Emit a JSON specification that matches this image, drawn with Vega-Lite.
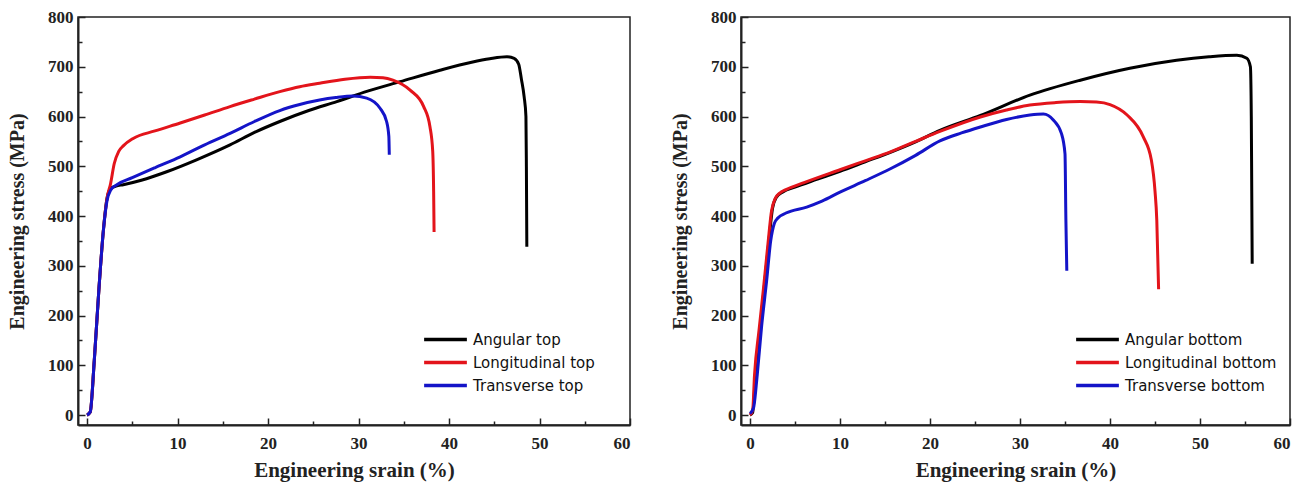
{
  "$schema": "https://vega.github.io/schema/vega-lite/v6.json",
  "background": "white",
  "padding": {"left": 6, "top": 7, "right": 5, "bottom": 5},
  "config": {
    "view": {"stroke": "#222", "strokeWidth": 1.5},
    "axis": {
      "grid": false,
      "domainWidth": 2,
      "domainColor": "#222",
      "tickColor": "#222",
      "tickWidth": 1.5,
      "labelFont": "Liberation Serif",
      "labelFontWeight": "bold",
      "labelFontSize": 17,
      "labelColor": "#222",
      "titleFont": "Liberation Serif",
      "titleFontWeight": "bold",
      "titleColor": "#222"
    },
    "legend": {
      "symbolType": "M-2.25,0H2.25",
      "symbolSize": 361,
      "symbolStrokeWidth": 3.5,
      "labelFont": "DejaVu Sans",
      "labelFontSize": 15,
      "labelColor": "#111",
      "rowPadding": 3,
      "padding": 0,
      "labelOffset": 16
    }
  },
  "datasets": {
    "top": [
      {"series": "Angular top", "strain": 0, "stress": 0},
      {"series": "Angular top", "strain": 0.35, "stress": 6},
      {"series": "Angular top", "strain": 0.8, "stress": 110},
      {"series": "Angular top", "strain": 1.3, "stress": 250},
      {"series": "Angular top", "strain": 1.8, "stress": 370},
      {"series": "Angular top", "strain": 2.2, "stress": 435},
      {"series": "Angular top", "strain": 2.6, "stress": 455},
      {"series": "Angular top", "strain": 3.2, "stress": 460},
      {"series": "Angular top", "strain": 4.0, "stress": 463},
      {"series": "Angular top", "strain": 6.0, "stress": 472},
      {"series": "Angular top", "strain": 8.8, "stress": 489},
      {"series": "Angular top", "strain": 12.1, "stress": 513},
      {"series": "Angular top", "strain": 15.8, "stress": 543},
      {"series": "Angular top", "strain": 18.5, "stress": 568},
      {"series": "Angular top", "strain": 21.3, "stress": 590},
      {"series": "Angular top", "strain": 24.5, "stress": 612},
      {"series": "Angular top", "strain": 27.6, "stress": 630},
      {"series": "Angular top", "strain": 31.0, "stress": 651},
      {"series": "Angular top", "strain": 34.6, "stress": 670},
      {"series": "Angular top", "strain": 39.0, "stress": 693},
      {"series": "Angular top", "strain": 42.5, "stress": 709},
      {"series": "Angular top", "strain": 44.5, "stress": 716},
      {"series": "Angular top", "strain": 46.4, "stress": 720},
      {"series": "Angular top", "strain": 47.2, "stress": 717},
      {"series": "Angular top", "strain": 47.7, "stress": 705},
      {"series": "Angular top", "strain": 48.0, "stress": 675},
      {"series": "Angular top", "strain": 48.3, "stress": 640},
      {"series": "Angular top", "strain": 48.5, "stress": 600},
      {"series": "Angular top", "strain": 48.55, "stress": 500},
      {"series": "Angular top", "strain": 48.6, "stress": 338},
      {"series": "Longitudinal top", "strain": 0, "stress": 0},
      {"series": "Longitudinal top", "strain": 0.35, "stress": 6},
      {"series": "Longitudinal top", "strain": 0.8, "stress": 110},
      {"series": "Longitudinal top", "strain": 1.3, "stress": 250},
      {"series": "Longitudinal top", "strain": 1.8, "stress": 370},
      {"series": "Longitudinal top", "strain": 2.2, "stress": 435},
      {"series": "Longitudinal top", "strain": 2.6, "stress": 465},
      {"series": "Longitudinal top", "strain": 3.0, "stress": 505},
      {"series": "Longitudinal top", "strain": 3.5, "stress": 530},
      {"series": "Longitudinal top", "strain": 4.0, "stress": 541},
      {"series": "Longitudinal top", "strain": 5.1, "stress": 556},
      {"series": "Longitudinal top", "strain": 7.5, "stress": 571},
      {"series": "Longitudinal top", "strain": 10.3, "stress": 587},
      {"series": "Longitudinal top", "strain": 13.0, "stress": 603},
      {"series": "Longitudinal top", "strain": 15.8, "stress": 620},
      {"series": "Longitudinal top", "strain": 18.5, "stress": 635},
      {"series": "Longitudinal top", "strain": 21.3, "stress": 650},
      {"series": "Longitudinal top", "strain": 23.5, "stress": 660},
      {"series": "Longitudinal top", "strain": 25.7, "stress": 667},
      {"series": "Longitudinal top", "strain": 28.5, "stress": 675},
      {"series": "Longitudinal top", "strain": 31.3, "stress": 679},
      {"series": "Longitudinal top", "strain": 32.7, "stress": 678},
      {"series": "Longitudinal top", "strain": 33.8, "stress": 673},
      {"series": "Longitudinal top", "strain": 35.7, "stress": 653},
      {"series": "Longitudinal top", "strain": 37.2, "stress": 620},
      {"series": "Longitudinal top", "strain": 37.9, "stress": 579},
      {"series": "Longitudinal top", "strain": 38.2, "stress": 530},
      {"series": "Longitudinal top", "strain": 38.3, "stress": 450},
      {"series": "Longitudinal top", "strain": 38.35, "stress": 368},
      {"series": "Transverse top", "strain": 0, "stress": 0},
      {"series": "Transverse top", "strain": 0.35, "stress": 6},
      {"series": "Transverse top", "strain": 0.8, "stress": 110},
      {"series": "Transverse top", "strain": 1.3, "stress": 250},
      {"series": "Transverse top", "strain": 1.8, "stress": 370},
      {"series": "Transverse top", "strain": 2.2, "stress": 430},
      {"series": "Transverse top", "strain": 2.6, "stress": 452},
      {"series": "Transverse top", "strain": 3.3, "stress": 463},
      {"series": "Transverse top", "strain": 5.0, "stress": 477},
      {"series": "Transverse top", "strain": 7.5, "stress": 497},
      {"series": "Transverse top", "strain": 10.3, "stress": 519},
      {"series": "Transverse top", "strain": 13.0, "stress": 543},
      {"series": "Transverse top", "strain": 15.8, "stress": 566},
      {"series": "Transverse top", "strain": 18.5, "stress": 590},
      {"series": "Transverse top", "strain": 21.3, "stress": 612},
      {"series": "Transverse top", "strain": 23.5, "stress": 624},
      {"series": "Transverse top", "strain": 25.7, "stress": 633},
      {"series": "Transverse top", "strain": 27.5, "stress": 638},
      {"series": "Transverse top", "strain": 29.4, "stress": 641},
      {"series": "Transverse top", "strain": 30.9, "stress": 637},
      {"series": "Transverse top", "strain": 32.4, "stress": 616},
      {"series": "Transverse top", "strain": 33.1, "stress": 590},
      {"series": "Transverse top", "strain": 33.35, "stress": 560},
      {"series": "Transverse top", "strain": 33.4, "stress": 523}
    ],
    "bottom": [
      {"series": "Angular bottom", "strain": 0, "stress": 0},
      {"series": "Angular bottom", "strain": 0.3, "stress": 5},
      {"series": "Angular bottom", "strain": 0.6, "stress": 80},
      {"series": "Angular bottom", "strain": 1.1, "stress": 170},
      {"series": "Angular bottom", "strain": 1.6, "stress": 260},
      {"series": "Angular bottom", "strain": 2.1, "stress": 350},
      {"series": "Angular bottom", "strain": 2.5, "stress": 415},
      {"series": "Angular bottom", "strain": 2.9, "stress": 437},
      {"series": "Angular bottom", "strain": 3.7, "stress": 449},
      {"series": "Angular bottom", "strain": 5.0, "stress": 458},
      {"series": "Angular bottom", "strain": 7.5, "stress": 474},
      {"series": "Angular bottom", "strain": 10.0, "stress": 490},
      {"series": "Angular bottom", "strain": 12.8, "stress": 509},
      {"series": "Angular bottom", "strain": 15.6, "stress": 528},
      {"series": "Angular bottom", "strain": 18.4, "stress": 549},
      {"series": "Angular bottom", "strain": 21.1, "stress": 572},
      {"series": "Angular bottom", "strain": 25.6, "stress": 602},
      {"series": "Angular bottom", "strain": 31.1, "stress": 643},
      {"series": "Angular bottom", "strain": 36.7, "stress": 673},
      {"series": "Angular bottom", "strain": 42.2, "stress": 697},
      {"series": "Angular bottom", "strain": 47.4, "stress": 713},
      {"series": "Angular bottom", "strain": 51.0, "stress": 720},
      {"series": "Angular bottom", "strain": 54.1, "stress": 723},
      {"series": "Angular bottom", "strain": 55.2, "stress": 717},
      {"series": "Angular bottom", "strain": 55.6, "stress": 700},
      {"series": "Angular bottom", "strain": 55.7, "stress": 600},
      {"series": "Angular bottom", "strain": 55.75, "stress": 450},
      {"series": "Angular bottom", "strain": 55.8, "stress": 304},
      {"series": "Longitudinal bottom", "strain": 0, "stress": 0},
      {"series": "Longitudinal bottom", "strain": 0.3, "stress": 10},
      {"series": "Longitudinal bottom", "strain": 0.5, "stress": 80},
      {"series": "Longitudinal bottom", "strain": 1.0, "stress": 170},
      {"series": "Longitudinal bottom", "strain": 1.5, "stress": 255},
      {"series": "Longitudinal bottom", "strain": 2.0, "stress": 345},
      {"series": "Longitudinal bottom", "strain": 2.4, "stress": 411},
      {"series": "Longitudinal bottom", "strain": 2.8, "stress": 435},
      {"series": "Longitudinal bottom", "strain": 3.3, "stress": 446},
      {"series": "Longitudinal bottom", "strain": 4.0, "stress": 453},
      {"series": "Longitudinal bottom", "strain": 6.0, "stress": 467},
      {"series": "Longitudinal bottom", "strain": 10.0, "stress": 493},
      {"series": "Longitudinal bottom", "strain": 12.8, "stress": 511},
      {"series": "Longitudinal bottom", "strain": 15.6, "stress": 529},
      {"series": "Longitudinal bottom", "strain": 18.4, "stress": 550},
      {"series": "Longitudinal bottom", "strain": 21.1, "stress": 570},
      {"series": "Longitudinal bottom", "strain": 25.6, "stress": 599},
      {"series": "Longitudinal bottom", "strain": 28.5, "stress": 613},
      {"series": "Longitudinal bottom", "strain": 31.1, "stress": 623},
      {"series": "Longitudinal bottom", "strain": 34.0, "stress": 628},
      {"series": "Longitudinal bottom", "strain": 36.7, "stress": 630},
      {"series": "Longitudinal bottom", "strain": 38.5, "stress": 629},
      {"series": "Longitudinal bottom", "strain": 40.0, "stress": 624},
      {"series": "Longitudinal bottom", "strain": 41.9, "stress": 603},
      {"series": "Longitudinal bottom", "strain": 43.7, "stress": 559},
      {"series": "Longitudinal bottom", "strain": 44.6, "stress": 512},
      {"series": "Longitudinal bottom", "strain": 45.0, "stress": 450},
      {"series": "Longitudinal bottom", "strain": 45.2, "stress": 391},
      {"series": "Longitudinal bottom", "strain": 45.4, "stress": 253},
      {"series": "Transverse bottom", "strain": 0, "stress": 3},
      {"series": "Transverse bottom", "strain": 0.4, "stress": 15},
      {"series": "Transverse bottom", "strain": 0.8, "stress": 80},
      {"series": "Transverse bottom", "strain": 1.3, "stress": 180},
      {"series": "Transverse bottom", "strain": 1.85, "stress": 270},
      {"series": "Transverse bottom", "strain": 2.3, "stress": 350},
      {"series": "Transverse bottom", "strain": 2.7, "stress": 385},
      {"series": "Transverse bottom", "strain": 3.1, "stress": 396},
      {"series": "Transverse bottom", "strain": 4.0, "stress": 406},
      {"series": "Transverse bottom", "strain": 6.3, "stress": 418},
      {"series": "Transverse bottom", "strain": 8.0, "stress": 430},
      {"series": "Transverse bottom", "strain": 10.0, "stress": 448},
      {"series": "Transverse bottom", "strain": 12.8, "stress": 471},
      {"series": "Transverse bottom", "strain": 15.6, "stress": 495},
      {"series": "Transverse bottom", "strain": 18.4, "stress": 522},
      {"series": "Transverse bottom", "strain": 21.1, "stress": 551},
      {"series": "Transverse bottom", "strain": 23.5, "stress": 567},
      {"series": "Transverse bottom", "strain": 25.6, "stress": 579},
      {"series": "Transverse bottom", "strain": 28.5, "stress": 594},
      {"series": "Transverse bottom", "strain": 31.1, "stress": 603},
      {"series": "Transverse bottom", "strain": 32.6, "stress": 605},
      {"series": "Transverse bottom", "strain": 33.7, "stress": 593},
      {"series": "Transverse bottom", "strain": 34.6, "stress": 566},
      {"series": "Transverse bottom", "strain": 35.0, "stress": 525},
      {"series": "Transverse bottom", "strain": 35.1, "stress": 391},
      {"series": "Transverse bottom", "strain": 35.2, "stress": 290}
    ]
  },
  "resolve": {"scale": {"color": "independent"}, "legend": {"color": "independent"}},
  "spacing": 37,
  "hconcat": [
    {
      "width": 552,
      "height": 408,
      "data": {"name": "top"},
      "mark": {"type": "line", "strokeWidth": 3, "interpolate": "monotone"},
      "encoding": {
        "x": {
          "field": "strain", "type": "quantitative",
          "scale": {"domain": [-1, 60], "nice": false, "zero": false},
          "axis": {
            "title": "Engineering srain (%)",
            "titleFont": "Liberation Serif", "titleFontWeight": "bold",
            "titleFontSize": 21,
            "titlePadding": 8,
            "values": [0, 5, 10, 15, 20, 25, 30, 35, 40, 45, 50, 55, 60],
            "labelExpr": "datum.value % 10 === 0 ? datum.label : ''",
            "labelFont": "Liberation Serif", "labelFontWeight": "bold", "labelFontSize": 17,
            "tickSize": {"condition": {"test": "datum.value % 10 !== 0", "value": -4}, "value": -7},
            "labelPadding": 17
          }
        },
        "y": {
          "field": "stress", "type": "quantitative",
          "scale": {"domain": [-20, 800], "nice": false, "zero": false},
          "axis": {
            "title": "Engineering stress (MPa)",
            "titleFont": "Liberation Serif", "titleFontWeight": "bold",
            "titleFontSize": 20,
            "titlePadding": 20,
            "values": [0, 50, 100, 150, 200, 250, 300, 350, 400, 450, 500, 550, 600, 650, 700, 750, 800],
            "labelExpr": "datum.value % 100 === 0 ? datum.label : ''",
            "labelFont": "Liberation Serif", "labelFontWeight": "bold", "labelFontSize": 17,
            "tickSize": {"condition": {"test": "datum.value % 100 !== 0", "value": -4}, "value": -7},
            "labelPadding": 12
          }
        },
        "color": {
          "field": "series", "type": "nominal",
          "scale": {"domain": ["Angular top", "Longitudinal top", "Transverse top"], "range": ["#000000", "#e3141b", "#1414c8"]},
          "legend": {"title": null, "orient": "none", "legendX": 356, "legendY": 311}
        }
      }
    },
    {
      "width": 549,
      "height": 408,
      "data": {"name": "bottom"},
      "mark": {"type": "line", "strokeWidth": 3, "interpolate": "monotone"},
      "encoding": {
        "x": {
          "field": "strain", "type": "quantitative",
          "scale": {"domain": [-1, 60], "nice": false, "zero": false},
          "axis": {
            "title": "Engineering srain (%)",
            "titleFont": "Liberation Serif", "titleFontWeight": "bold",
            "titleFontSize": 21,
            "titlePadding": 8,
            "values": [0, 5, 10, 15, 20, 25, 30, 35, 40, 45, 50, 55, 60],
            "labelExpr": "datum.value % 10 === 0 ? datum.label : ''",
            "labelFont": "Liberation Serif", "labelFontWeight": "bold", "labelFontSize": 17,
            "tickSize": {"condition": {"test": "datum.value % 10 !== 0", "value": -4}, "value": -7},
            "labelPadding": 17
          }
        },
        "y": {
          "field": "stress", "type": "quantitative",
          "scale": {"domain": [-20, 800], "nice": false, "zero": false},
          "axis": {
            "title": "Engineering stress (MPa)",
            "titleFont": "Liberation Serif", "titleFontWeight": "bold",
            "titleFontSize": 20,
            "titlePadding": 20,
            "values": [0, 50, 100, 150, 200, 250, 300, 350, 400, 450, 500, 550, 600, 650, 700, 750, 800],
            "labelExpr": "datum.value % 100 === 0 ? datum.label : ''",
            "labelFont": "Liberation Serif", "labelFontWeight": "bold", "labelFontSize": 17,
            "tickSize": {"condition": {"test": "datum.value % 100 !== 0", "value": -4}, "value": -7},
            "labelPadding": 12
          }
        },
        "color": {
          "field": "series", "type": "nominal",
          "scale": {"domain": ["Angular bottom", "Longitudinal bottom", "Transverse bottom"], "range": ["#000000", "#e3141b", "#1414c8"]},
          "legend": {"title": null, "orient": "none", "legendX": 345, "legendY": 311}
        }
      }
    }
  ]
}
